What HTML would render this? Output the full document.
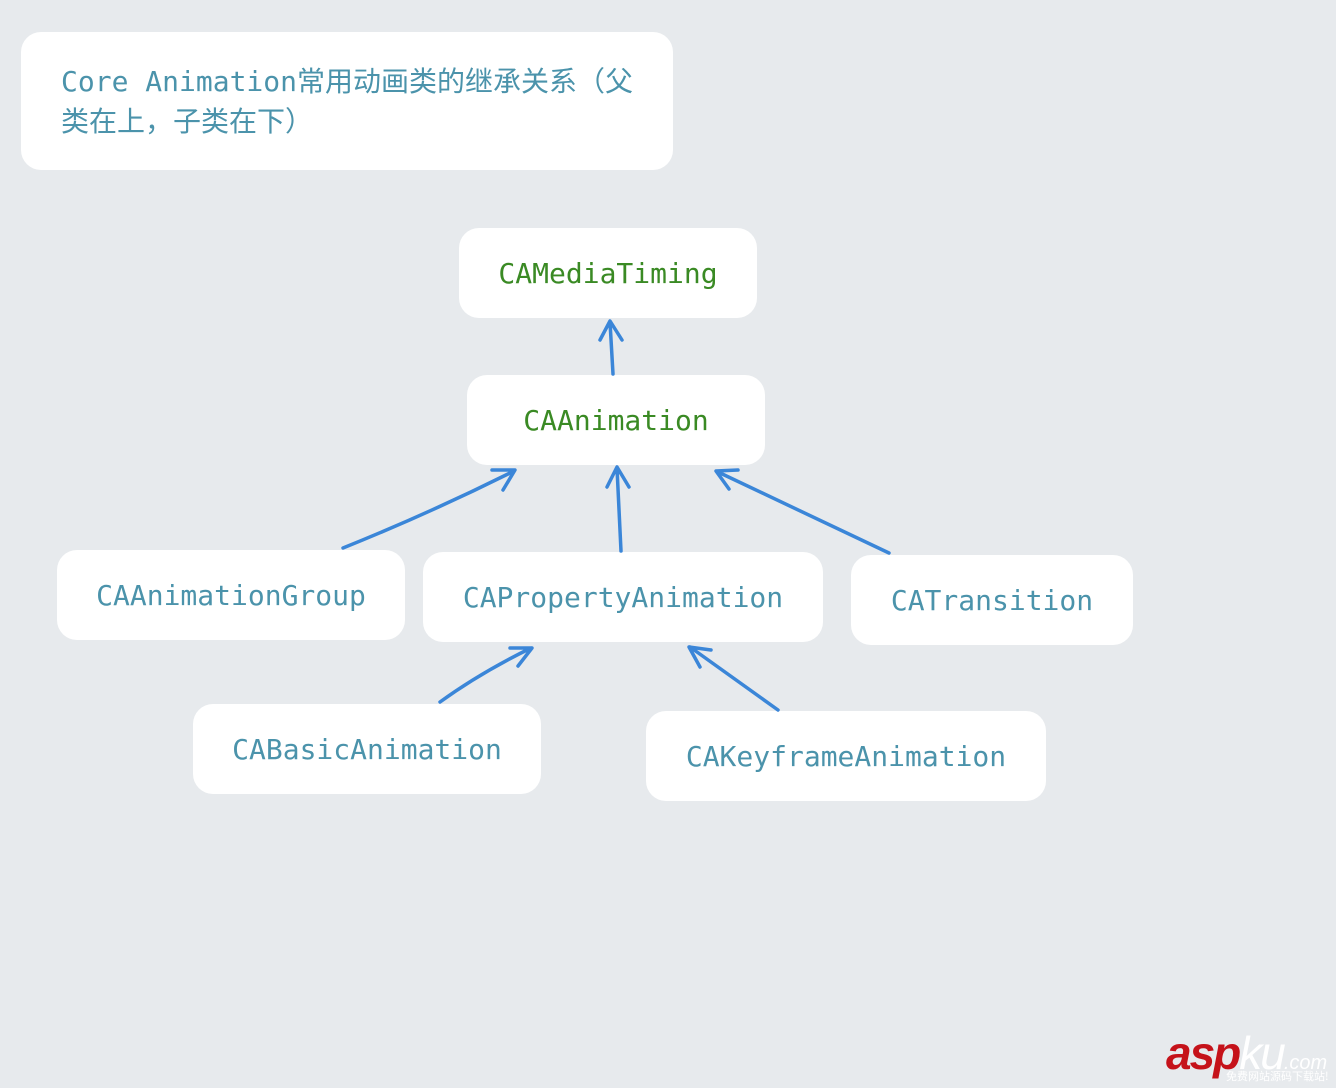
<!DOCTYPE html>
<html><head><meta charset="utf-8"><style>
body{margin:0;width:1336px;height:1088px;background:#e7eaed;position:relative;overflow:hidden;font-family:"DejaVu Sans Mono","Liberation Mono","Noto Sans CJK SC",monospace;}
.b{position:absolute;background:#fff;border-radius:20px;display:flex;align-items:center;justify-content:center;font-size:28px;color:#4b93ab;white-space:nowrap}
.g{color:#3a8a24}
svg{position:absolute;left:0;top:0}
</style></head><body>
<div class="b" style="left:21px;top:32px;width:652px;height:138px;display:block;white-space:normal;">
<div style="position:absolute;left:40px;top:30px;width:590px;line-height:40px;font-family:'DejaVu Sans Mono','Noto Sans CJK SC',monospace;">Core Animation常用动画类的继承关系（父类在上，子类在下）</div></div>
<div class="b g" style="left:459px;top:228px;width:298px;height:90px">CAMediaTiming</div>
<div class="b g" style="left:467px;top:375px;width:298px;height:90px">CAAnimation</div>
<div class="b" style="left:57px;top:550px;width:348px;height:90px">CAAnimationGroup</div>
<div class="b" style="left:423px;top:552px;width:400px;height:90px">CAPropertyAnimation</div>
<div class="b" style="left:851px;top:555px;width:282px;height:90px">CATransition</div>
<div class="b" style="left:193px;top:704px;width:348px;height:90px">CABasicAnimation</div>
<div class="b" style="left:646px;top:711px;width:400px;height:90px">CAKeyframeAnimation</div>
<svg width="1336" height="1088" fill="none" stroke="#3b86d8" stroke-width="3.5" stroke-linecap="round" stroke-linejoin="round">
<path d="M613 374 L610 322 M600 340 L610 321 L622 340"/>
<path d="M343 548 Q430 513 514 471 M492 470 L515 470 L503 490"/>
<path d="M621 551 L617 468 M607 487 L617 467 L629 487"/>
<path d="M889 553 L718 472 M738 470 L716 471 L729 489"/>
<path d="M440 702 Q480 673 531 648 M510 648 L532 648 L518 666"/>
<path d="M778 710 L690 647 M711 650 L689 647 L700 667"/>
</svg>
<div style="position:absolute;left:1166px;top:1026px;font:italic bold 46px 'Liberation Sans',sans-serif;color:#c5121a;letter-spacing:-2px">asp<span style="color:#fff;font-weight:normal">ku</span><span style="font-size:20px;color:#fff;font-weight:normal;letter-spacing:0">.com</span></div>
<div style="position:absolute;left:1226px;top:1068px;font:11px 'Noto Sans CJK SC',sans-serif;color:#fff">免费网站源码下载站!</div>
</body></html>
